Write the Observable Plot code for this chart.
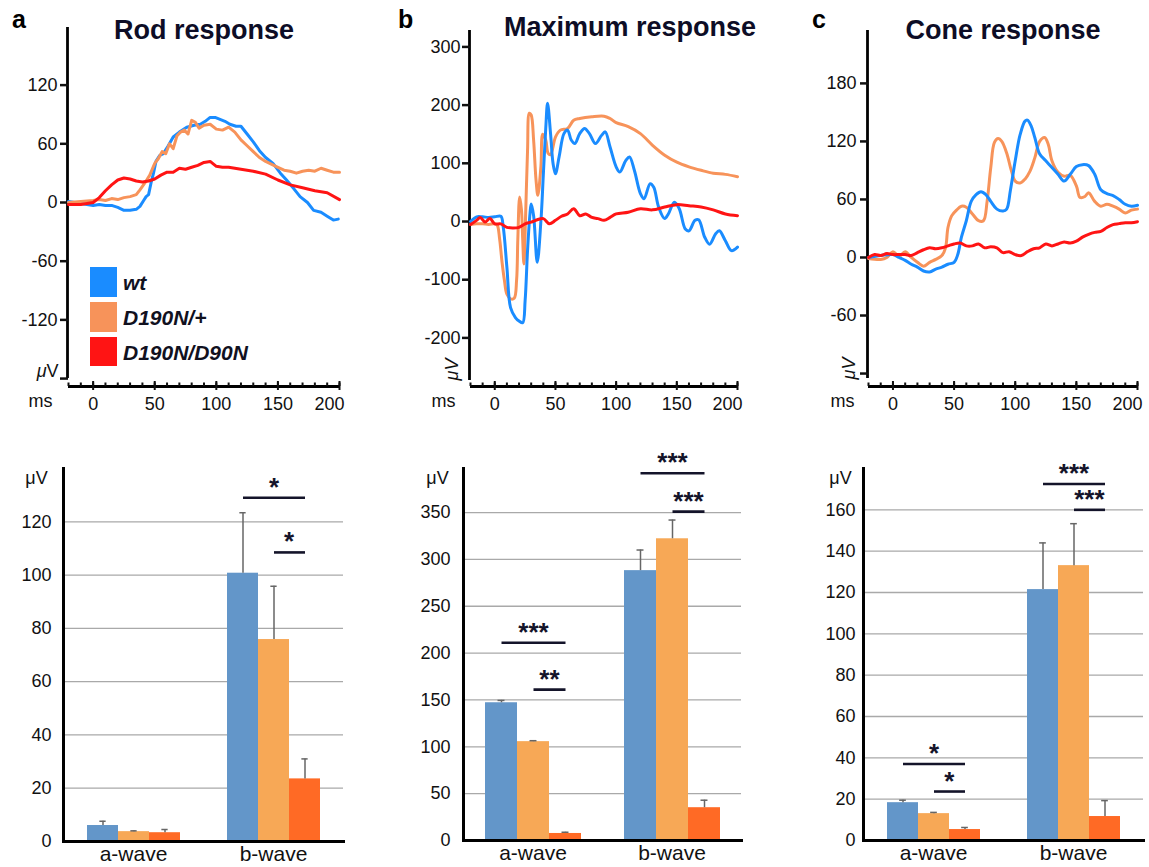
<!DOCTYPE html>
<html>
<head>
<meta charset="utf-8">
<script src="https://cdn.jsdelivr.net/npm/d3@7"></script>
<script src="https://cdn.jsdelivr.net/npm/@observablehq/plot@0.6"></script>
<style>
  body { margin: 0; background: #fff; font-family: "Liberation Sans", Arial, Helvetica, sans-serif; }
  #fig { position: relative; width: 1149px; height: 867px; overflow: hidden; background: #fff; }
  .panel { position: absolute; }
  .title { position: absolute; font-weight: bold; font-size: 27px; line-height: 27px; color: #0d0d26; white-space: nowrap; transform: translateX(-50%); }
  .letter { position: absolute; font-weight: bold; font-size: 25px; line-height: 25px; color: #000; }
  .sw { position: absolute; width: 27px; }
  .lg { position: absolute; font-weight: bold; font-style: italic; font-size: 21px; line-height: 21px; color: #11111f; white-space: nowrap; }
</style>
</head>
<body>
<div id="fig"></div>
<script>
const FONT = '"Liberation Sans", Arial, Helvetica, sans-serif';

// ---------- categories & colours ----------
const genotypes = ["wt", "D190N/+", "D190N/D90N"];
const lineColors = ["#1A8CFF", "#F7935A", "#FF1414"];
const barColors = ["#6396C9", "#F7A856", "#FF6A25"];
const waves = ["a-wave", "b-wave"];
const timeMajor = [0, 50, 100, 150];
const timeEnd = [200];
const timeMinor = d3.range(-20, 201, 10);

// ---------- a: Rod response traces (ms, µV) ----------
const rodWtT = [-20,-15,-10,-5,0,5,10,15,20,25,30,35,38,41,43,45,47,49,51,54,57,61,65,70,76,82,87,91,95,99,103,107,111,116,120,125,130,135,140,146,152,157,163,168,174,179,185,190,195,199];
const rodWtV = [1,0,-1,-2,-3,-2,-3,-3,-5,-8,-8,-7,-4,2,6,8,20,30,42,48,50,58,67,72,77,79,80,83,87,87,85,83,80,78,78,70,62,53,46,40,30,23,14,6,0,-8,-10,-14,-18,-17];
const rodHetT = [-20,-10,0,5,10,15,20,25,30,35,38,42,46,50,53,56,59,62,65,68,71,74,77,80,83,86,90,95,100,105,110,115,120,125,130,135,140,145,150,155,160,165,170,175,180,185,190,195,200];
const rodHetV = [0,1,2,3,2,4,3,5,6,8,13,20,28,40,45,52,50,60,55,68,72,74,70,84,82,76,79,80,75,74,77,72,64,58,52,46,42,39,36,33,32,30,32,33,32,35,33,31,31];
const rodHomT = [-20,-10,0,5,10,15,20,25,30,35,40,45,50,55,60,65,70,75,80,85,90,95,100,105,110,120,130,140,150,160,170,180,190,200];
const rodHomV = [-2,-2,0,5,12,18,23,25,24,22,21,22,24,28,31,31,35,34,36,38,41,42,37,36,36,34,32,29,23,18,15,12,10,3];

// ---------- b: Maximum response traces ----------
const maxWtT = [-20,-15,-10,-5,0,5,7,10,13,17,20,23,25,27,29,30,32,35,38,40,42,43.5,46,48,50,53,57,60,63,66,70,74,78,83,88,91,95,100,103,108,111,115,120,123,128,131,135,140,143,148,152,157,160,165,168,173,177,182,185,190,195,200];
const maxWtV = [0,8,8,7,8,9,-10,-79,-148,-165,-171,-174,-136,-50,13,30,10,-70,0,80,160,203,150,100,82,111,151,157,140,134,151,160,151,134,148,154,128,94,85,105,111,88,48,39,65,59,25,5,13,33,22,-13,-16,2,3,-27,-39,-21,-16,-33,-50,-44];
const maxHetT = [-20,-15,-10,-5,0,2,4,6,8,10,13,16,18,19,20.5,22,23,24,25,27,28.5,30,32,34,35.5,38,39.5,42,44,46,50,54,60,65,70,80,90,95,100,110,120,130,140,150,160,170,180,190,200];
const maxHetV = [-5,-4,-4,-5,-4,-6,-30,-70,-102,-125,-133,-132,-100,-30,42,20,-30,-73,-20,122,186,183,140,71,45,94,150,140,117,115,145,157,160,174,177,180,181,177,170,163,151,131,114,102,94,88,83,81,77];
const maxHomT = [-20,-15,-12,-8,-4,0,5,10,15,20,25,30,35,40,45,50,55,60,65,70,75,80,85,90,95,100,110,120,130,140,150,160,170,180,190,200];
const maxHomV = [-5,2,7,-1,5,-4,-4,-10,-11,-10,-4,-1,3,5,-4,2,9,13,22,10,13,7,5,2,7,13,16,22,20,25,29,27,25,20,13,10];

// ---------- c: Cone response traces ----------
const coneWtT = [-20,-10,0,5,10,15,20,25,30,35,40,45,50,53,56,60,64,68,72,76,80,85,90,93,96,100,104,108,110,113,116,120,125,130,135,140,145,150,155,160,165,170,175,180,185,190,195,200];
const coneWtV = [0,2,3,0,-3,-7,-10,-14,-15,-12,-10,-7,-5,3,21,38,58,65,68,65,58,50,48,50,69,100,127,141,142,136,124,107,100,93,86,79,86,94,96,95,86,70,66,64,60,55,53,54];
const coneHetT = [-20,-10,-5,0,5,10,15,20,25,30,35,40,43,45,48,52,56,60,65,70,74,77,80,83,86,89,93,97,100,104,108,112,116,120,124,127,130,135,140,145,150,153,157,160,165,170,175,180,185,190,195,200];
const coneHetV = [-1,-2,0,6,1,6,0,-5,-9,-5,-2,2,10,31,43,49,53,52,45,38,38,58,93,119,123,120,108,89,79,77,81,89,103,120,124,117,100,88,84,85,74,62,63,67,58,53,55,53,50,46,49,50];
const coneHomT = [-20,-15,-10,-5,0,5,10,15,20,25,30,35,40,45,50,55,60,65,70,75,80,85,90,95,100,105,110,115,120,125,130,135,140,145,150,155,160,165,170,175,180,185,190,195,200];
const coneHomV = [0,3,2,4,3,3,3,2,5,8,10,9,10,12,14,15,12,12,14,10,11,10,5,6,3,2,6,9,10,14,12,14,16,15,17,21,24,26,27,31,34,35,36,36,37];

// ---------- bar summaries (mean, SEM) ----------
const rodAMean = [6.0, 3.7, 3.3],     rodAErr = [1.6, 0.3, 1.2];
const rodBMean = [100.7, 75.8, 23.5], rodBErr = [22.7, 20.0, 7.5];
const maxAMean = [147, 105.5, 7.5],   maxAErr = [2.5, 1.0, 1.3];
const maxBMean = [288, 322, 35],      maxBErr = [22, 20, 8];
const coneAMean = [18.3, 13.0, 5.3],  coneAErr = [1.2, 0.6, 1.0];
const coneBMean = [121.4, 133, 11.6], coneBErr = [22.6, 20.3, 7.7];

// significance brackets
const rodSig = [
  {wave: "b-wave", from: "wt", to: "D190N/D90N", y: 129, label: "*"},
  {wave: "b-wave", from: "D190N/+", to: "D190N/D90N", y: 108.5, label: "*"}
];
const maxSig = [
  {wave: "a-wave", from: "wt", to: "D190N/D90N", y: 211, label: "***"},
  {wave: "a-wave", from: "D190N/+", to: "D190N/D90N", y: 161, label: "**"},
  {wave: "b-wave", from: "wt", to: "D190N/D90N", y: 392, label: "***"},
  {wave: "b-wave", from: "D190N/+", to: "D190N/D90N", y: 351, label: "***"}
];
const coneSig = [
  {wave: "a-wave", from: "wt", to: "D190N/D90N", y: 37, label: "*"},
  {wave: "a-wave", from: "D190N/+", to: "D190N/D90N", y: 23.7, label: "*"},
  {wave: "b-wave", from: "wt", to: "D190N/D90N", y: 172.5, label: "***"},
  {wave: "b-wave", from: "D190N/+", to: "D190N/D90N", y: 160, label: "***"}
];

// ---------- helpers ----------
const fig = document.getElementById("fig");
function place(node, left, top, width) {
  const d = document.createElement("div");
  d.className = "panel";
  d.style.left = left + "px"; d.style.top = top + "px"; d.style.width = width + "px";
  d.appendChild(node);
  fig.appendChild(d);
}
function addText(cls, text, left, top, extra) {
  const d = document.createElement("div");
  d.className = cls; d.textContent = text;
  d.style.left = left + "px"; d.style.top = top + "px";
  if (extra) Object.assign(d.style, extra);
  fig.appendChild(d);
}

function tracePanel(cfg) {
  const rows = [];
  cfg.series.forEach((s, si) => s.t.forEach((t, i) => rows.push({geno: genotypes[si], t, v: s.v[i]})));
  const marks = [
    Plot.ruleX([-20], {y1: cfg.axisExtent[0], y2: cfg.axisExtent[1], stroke: "#000", strokeWidth: 2.8, dx: -1}),
    Plot.axisY({ticks: cfg.yTicks, tickSize: 8, tickPadding: cfg.tp, strokeWidth: 2.5, fontSize: 18,
      tickFormat: d => d === cfg.blankTick ? "" : String(d), label: null}),
    Plot.ruleY([cfg.yDomain[0]], {stroke: "#000", strokeWidth: 2.8}),
    Plot.axisX({ticks: timeMinor, tickSize: -3.5, strokeWidth: 2, tickFormat: () => "", label: null}),
    Plot.axisX({ticks: [...timeMajor, ...timeEnd], tickSize: -5, strokeWidth: 2, tickFormat: () => "", label: null}),
    Plot.axisX({ticks: [...timeMajor, ...timeEnd], tickSize: 4, strokeWidth: 2, tickFormat: () => "", label: null}),
    Plot.axisX({ticks: timeMajor, tickSize: 0, tickPadding: 11, fontSize: 18, tickFormat: d => String(d), label: null}),
    Plot.axisX({ticks: timeEnd, tickSize: 0, tickPadding: 11, fontSize: 18, textAnchor: "end", dx: 5, tickFormat: d => String(d), label: null}),
    Plot.text(["ms"], {frameAnchor: "bottom-left", dx: cfg.msDx, dy: 15, fontSize: 18, textAnchor: "middle", lineAnchor: "middle"})
  ];
  for (const gi of cfg.drawOrder) {
    marks.push(Plot.line(rows.filter(r => r.geno === genotypes[gi]), {x: "t", y: "v", stroke: "geno", strokeWidth: 3, curve: cfg.curve}));
  }
  if (cfg.muRot) {
    marks.push(Plot.text(["μV"], {frameAnchor: "bottom-left", rotate: -90, dx: cfg.muDx, dy: cfg.muDy, fontSize: 18, fontStyle: "italic", textAnchor: "middle", lineAnchor: "middle"}));
  } else {
    marks.push(Plot.text(["V"], {frameAnchor: "bottom-left", dx: -10, dy: -9.5, fontSize: 18, textAnchor: "end", lineAnchor: "bottom"}));
    marks.push(Plot.text(["μ"], {frameAnchor: "bottom-left", dx: -22, dy: -9.5, fontSize: 18, fontStyle: "italic", textAnchor: "end", lineAnchor: "bottom"}));
  }
  return Plot.plot({
    width: cfg.width, height: 420,
    marginLeft: cfg.ml, marginRight: cfg.mr, marginTop: cfg.mt, marginBottom: 34,
    style: {fontFamily: FONT, fontSize: "18px", color: "#111", background: "transparent", overflow: "visible"},
    x: {domain: [-20, 200], axis: null, label: null},
    y: {domain: cfg.yDomain, axis: null, label: null},
    color: {domain: genotypes, range: lineColors},
    marks
  });
}

function barPanel(cfg) {
  const rows = [];
  waves.forEach((w, wi) => genotypes.forEach((g, gi) => rows.push({wave: w, geno: g, mean: cfg.means[wi][gi], err: cfg.errs[wi][gi]})));
  const facetW = (cfg.width - cfg.ml - cfg.mr) / 2;
  const step = facetW / (3 + 2 * cfg.po);
  const cap = (step - 7) / 2;
  const wide = cfg.sig.filter(d => d.from === genotypes[0]);
  const narrow = cfg.sig.filter(d => d.from !== genotypes[0]);
  const txt = {fontSize: 26, fontWeight: "bold", fill: "#14142a", textAnchor: "middle", lineAnchor: "bottom", dy: -2};
  return Plot.plot({
    width: cfg.width, height: 417,
    marginLeft: cfg.ml, marginRight: cfg.mr, marginTop: cfg.mt, marginBottom: cfg.mb,
    style: {fontFamily: FONT, fontSize: "18px", color: "#111", background: "transparent", overflow: "visible"},
    fx: {domain: waves, paddingInner: 0, paddingOuter: 0, axis: null, label: null},
    x: {domain: genotypes, paddingInner: 0, paddingOuter: cfg.po, axis: null, label: null},
    y: {domain: cfg.yDomain, axis: null, label: null},
    color: {domain: genotypes, range: barColors},
    marks: [
      Plot.gridY(cfg.grid, {stroke: "#a9a9a9", strokeOpacity: 1, strokeWidth: 1.3}),
      Plot.barY(rows, {fx: "wave", x: "geno", y: "mean", fill: "geno"}),
      Plot.ruleX(rows, {fx: "wave", x: "geno", y1: "mean", y2: d => d.mean + d.err, stroke: "#666", strokeWidth: 1.5}),
      Plot.tickY(rows, {fx: "wave", x: "geno", y: d => d.mean + d.err, stroke: "#666", strokeWidth: 1.5, insetLeft: cap, insetRight: cap}),
      Plot.link(cfg.sig, {fx: "wave", x1: "from", x2: "to", y1: "y", y2: "y", stroke: "#14142a", strokeWidth: 2.6}),
      Plot.text(wide, {fx: "wave", x: () => genotypes[1], y: "y", text: "label", ...txt}),
      Plot.text(narrow, {fx: "wave", x: "to", y: "y", text: "label", ...txt, dx: -step / 2}),
      Plot.frame({anchor: "bottom", stroke: "#000", strokeWidth: 3}),
      Plot.frame({anchor: "left", facetAnchor: "left", stroke: "#000", strokeWidth: 3}),
      Plot.axisY({ticks: cfg.ticks, tickSize: 0, tickPadding: cfg.tp, fontSize: 18, tickFormat: d => String(d), label: null}),
      Plot.axisFx({anchor: "bottom", tickSize: 0, tickPadding: 5, fontSize: 21, label: null}),
      Plot.text(["μV"], {frameAnchor: "top-left", facetAnchor: "left", dx: cfg.muDx, dy: 10, fontSize: 18, textAnchor: "middle", lineAnchor: "middle"})
    ]
  });
}

// ---------- top row ----------
place(tracePanel({
  width: 380, ml: 68, mr: 41, mt: 27, yDomain: [-188.1, 178.9], axisExtent: [-180, 178.9],
  yTicks: [-180, -120, -60, 0, 60, 120], blankTick: -180, tp: 3, msDx: -28, curve: "linear",
  series: [{t: rodWtT, v: rodWtV}, {t: rodHetT, v: rodHetV}, {t: rodHomT, v: rodHomV}], drawOrder: [0, 1, 2]
}), 0, 0, 380);

place(tracePanel({
  width: 390, ml: 90, mr: 33, mt: 30, yDomain: [-283.5, 328.2], axisExtent: [-273, 328.2],
  yTicks: [-200, -100, 0, 100, 200, 300], blankTick: null, tp: 2, msDx: -27, curve: "catmull-rom",
  muRot: true, muDx: -18, muDy: -17,
  series: [{t: maxWtT, v: maxWtV}, {t: maxHetT, v: maxHetV}, {t: maxHomT, v: maxHomV}], drawOrder: [1, 0, 2]
}), 380, 0, 390);

place(tracePanel({
  width: 379, ml: 98, mr: 12, mt: 30, yDomain: [-133.4, 234.7], axisExtent: [-125, 234.7],
  yTicks: [-120, -60, 0, 60, 120, 180], blankTick: -120, tp: 4, msDx: -26, curve: "catmull-rom",
  muRot: true, muDx: -19, muDy: -18,
  series: [{t: coneWtT, v: coneWtV}, {t: coneHetT, v: coneHetV}, {t: coneHomT, v: coneHomV}], drawOrder: [1, 0, 2]
}), 770, 0, 379);

// ---------- bottom row ----------
place(barPanel({
  width: 360, ml: 62, mr: 17, mt: 18, mb: 26, yDomain: [0, 140], po: 0.716, tp: 12, muDx: -27,
  ticks: [0, 20, 40, 60, 80, 100, 120], grid: [20, 40, 60, 80, 100, 120],
  means: [rodAMean, rodBMean], errs: [rodAErr, rodBErr], sig: rodSig
}), 0, 450, 360);

place(barPanel({
  width: 390, ml: 83, mr: 29, mt: 18, mb: 27, yDomain: [0, 397], po: 0.67, tp: 13, muDx: -26,
  ticks: [0, 50, 100, 150, 200, 250, 300, 350], grid: [50, 100, 150, 200, 250, 300, 350],
  means: [maxAMean, maxBMean], errs: [maxAErr, maxBErr], sig: maxSig
}), 380, 450, 390);

place(barPanel({
  width: 379, ml: 93, mr: 6, mt: 18, mb: 27, yDomain: [0, 180], po: 0.736, tp: 8, muDx: -23,
  ticks: [0, 20, 40, 60, 80, 100, 120, 140, 160], grid: [20, 40, 60, 80, 100, 120, 140, 160],
  means: [coneAMean, coneBMean], errs: [coneAErr, coneBErr], sig: coneSig
}), 770, 450, 379);

// ---------- titles, panel letters, legend ----------
addText("title", "Rod response", 204, 17);
addText("title", "Maximum response", 630, 14);
addText("title", "Cone response", 1003, 17);
addText("letter", "a", 12, 7);
addText("letter", "b", 398, 7);
addText("letter", "c", 812, 7);

const swTops = [267, 302, 337];
genotypes.forEach((g, i) => {
  const s = document.createElement("div");
  s.className = "sw";
  s.style.left = "90px"; s.style.top = swTops[i] + "px"; s.style.height = (i === 2 ? 29 : 30) + "px";
  s.style.background = lineColors[i];
  fig.appendChild(s);
  addText("lg", g, 123, [272, 307, 342][i]);
});
</script>
</body>
</html>
